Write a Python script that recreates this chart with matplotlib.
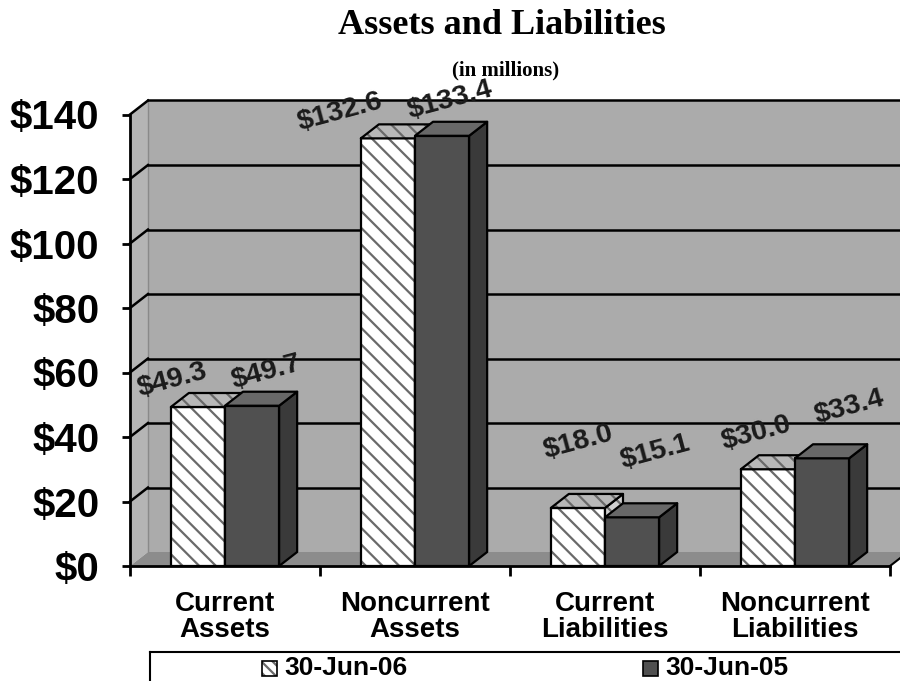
import matplotlib
matplotlib.use("Agg")
import matplotlib.pyplot as plt
from matplotlib.patches import Polygon, Rectangle

categories = ["Current\nAssets", "Noncurrent\nAssets", "Current\nLiabilities", "Noncurrent\nLiabilities"]
series_names = ["30-Jun-06", "30-Jun-05"]
values_06 = [49.3, 132.6, 18.0, 30.0]
values_05 = [49.7, 133.4, 15.1, 33.4]
y_ticks = [0, 20, 40, 60, 80, 100, 120, 140]

# label offsets in pixels from the top of each bar (Excel placed them loosely)
offsets_06 = [(-26, 27), (-48, 26), (0, 66), (-12, 36)]
offsets_05 = [(14, 34), (8, 36), (23, 65), (27, 51)]

plt.rcParams["font.family"] = ["Liberation Sans", "DejaVu Sans"]
plt.rcParams["hatch.linewidth"] = 1.6

fig = plt.figure(figsize=(9, 6.81), dpi=100)
ax = fig.add_axes([130 / 900, 115 / 681, 760 / 900, 451.5 / 681])
ax.set_xlim(0, 4)
ax.set_ylim(0, 140)
ax.patch.set_visible(False)

# 3d depth, converted from pixels to data units
dx = 18 / 190
dy = 14 / (451.5 / 140)
ymax = 140

wall = "#ababab"
# back wall, side wall and floor
ax.add_patch(Polygon([(dx, dy), (4 + dx, dy), (4 + dx, ymax + dy), (dx, ymax + dy)],
                     facecolor=wall, edgecolor="none", clip_on=False, zorder=0))
ax.add_patch(Polygon([(0, 0), (dx, dy), (dx, ymax + dy), (0, ymax)],
                     facecolor="#b5b5b5", edgecolor="none", clip_on=False, zorder=0))
ax.add_patch(Polygon([(0, 0), (4, 0), (4 + dx, dy), (dx, dy)],
                     facecolor="#8c8c8c", edgecolor="none", clip_on=False, zorder=0))
ax.plot([dx, dx], [dy, ymax + dy], color="#8a8a8a", lw=1, clip_on=False, zorder=1)
ax.plot([4, 4 + dx], [0, dy], color="black", lw=1.5, clip_on=False, zorder=1)

for y in y_ticks[1:]:
    ax.plot([0, dx], [y, y + dy], color="black", lw=1.8, clip_on=False, zorder=1)
    ax.plot([dx, 4 + dx], [y + dy, y + dy], color="black", lw=1.8, clip_on=False, zorder=1)

w = 0.285


def draw_bar(x0, h, front, side, top, hatch=None):
    x1 = x0 + w
    faces = [
        ([(x0, 0), (x1, 0), (x1, h), (x0, h)], front),
        ([(x1, 0), (x1 + dx, dy), (x1 + dx, h + dy), (x1, h)], side),
        ([(x0, h), (x1, h), (x1 + dx, h + dy), (x0 + dx, h + dy)], top),
    ]
    for pts, fc in faces:
        if hatch:
            ax.add_patch(Polygon(pts, facecolor=fc, edgecolor="#6a6a6a", lw=0,
                                 hatch=hatch, clip_on=False, zorder=3))
        else:
            ax.add_patch(Polygon(pts, facecolor=fc, edgecolor="none", clip_on=False, zorder=3))
        ax.add_patch(Polygon(pts, fill=False, edgecolor="black", lw=1.6,
                             joinstyle="round", clip_on=False, zorder=3))


for i in range(len(categories)):
    c = i + 0.5
    draw_bar(c - w, values_06[i], "white", "#d0d0d0", "#b8b8b8", hatch="\\\\")
    draw_bar(c, values_05[i], "#505050", "#3a3a3a", "#686868")

label_kw = dict(textcoords="offset pixels", ha="center", va="center", rotation=15,
                fontsize=20.5, fontweight="bold", color="#1a1a1a", zorder=5,
                annotation_clip=False)
for i in range(len(categories)):
    c = i + 0.5
    ax.annotate(f"${values_06[i]:.1f}", (c - w / 2, values_06[i]), xytext=offsets_06[i], **label_kw)
    ax.annotate(f"${values_05[i]:.1f}", (c + w / 2, values_05[i]), xytext=offsets_05[i], **label_kw)

# axes
for s in ["top", "right"]:
    ax.spines[s].set_visible(False)
for s in ["left", "bottom"]:
    ax.spines[s].set_linewidth(2)
    ax.spines[s].set_zorder(4)
ax.set_yticks(y_ticks)
ax.set_yticklabels([f"${v}" for v in y_ticks], fontsize=29, fontweight="bold")
ax.tick_params(axis="y", length=6, width=2, pad=16, direction="out")
ax.set_xticks([0, 1, 2, 3, 4])
ax.set_xticklabels([])
ax.set_xticks([0.5, 1.5, 2.5, 3.5], minor=True)
ax.set_xticklabels(categories, minor=True, fontsize=20, fontweight="bold", linespacing=1.0)
ax.tick_params(axis="x", which="major", length=7, width=2, direction="out")
ax.tick_params(axis="x", which="minor", length=0, pad=18)

# titles
fig.text(0.558, 1 - 25 / 681, "Assets and Liabilities", ha="center", va="center",
         fontsize=26, fontweight="bold", family=["Liberation Serif", "DejaVu Serif"])
fig.text(0.562, 1 - 70 / 681, "(in millions)", ha="center", va="center",
         fontsize=15, fontweight="bold", family=["Liberation Serif", "DejaVu Serif"])

# legend box running off the page
lx0, ly0 = 150 / 900, 1 - 652 / 681
fig.add_artist(plt.Line2D([lx0, 1.0], [ly0, ly0], color="black", lw=1.5, transform=fig.transFigure))
fig.add_artist(plt.Line2D([lx0, lx0], [0, ly0], color="black", lw=1.5, transform=fig.transFigure))
sq = 15
ly = 1 - 668 / 681
for name, x_px, fc, hatch in [(series_names[0], 262, "white", "\\\\\\"), (series_names[1], 643, "#505050", None)]:
    fig.add_artist(Rectangle((x_px / 900, ly - sq / 2 / 681), sq / 900, sq / 681,
                             facecolor=fc, edgecolor="#6a6a6a", lw=0, hatch=hatch,
                             transform=fig.transFigure))
    fig.add_artist(Rectangle((x_px / 900, ly - sq / 2 / 681), sq / 900, sq / 681,
                             fill=False, edgecolor="black", lw=1.2, transform=fig.transFigure))
    fig.text((x_px + sq + 7) / 900, ly, name, ha="left", va="center", fontsize=19,
             fontweight="bold")

fig.savefig("out.png", dpi=100)
